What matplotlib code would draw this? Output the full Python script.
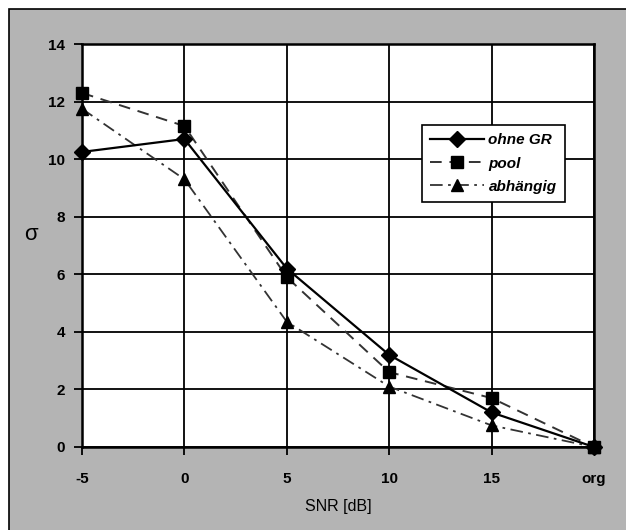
import numpy as np
import matplotlib
matplotlib.use("Agg")
import matplotlib.pyplot as plt
from matplotlib.patches import Rectangle

plt.rcParams['font.family'] = ['Liberation Sans', 'DejaVu Sans']

# data
snr_labels = ["-5", "0", "5", "10", "15", "org"]
ohne_gr = [10.25, 10.7, 6.2, 3.2, 1.2, 0.0]
pool = [12.3, 11.15, 5.9, 2.6, 1.7, 0.0]
abhaengig = [11.75, 9.3, 4.35, 2.1, 0.75, 0.0]
y_ticks = [0, 2, 4, 6, 8, 10, 12, 14]

x = np.arange(len(snr_labels))

fig = plt.figure(figsize=(6.26, 5.30), dpi=100, facecolor="white")

# grey panel with thin black border behind everything
fig.patches.append(Rectangle((9 / 626, -0.05), 1.0, 1 - 9 / 530 + 0.05,
                             transform=fig.transFigure, facecolor="#b4b4b4",
                             edgecolor="black", linewidth=1.2, zorder=-5))

ax = fig.add_axes([82 / 626, 1 - 447 / 530, (594 - 82) / 626, (447 - 44) / 530])
ax.set_zorder(2)
ax.set_facecolor("white")

ax.plot(x, ohne_gr, color="black", linestyle="-", linewidth=1.6,
        marker="D", markersize=8, label="ohne GR", zorder=4, clip_on=False)
ax.plot(x, pool, color="#333333", linestyle=(0, (6, 4)), linewidth=1.4,
        marker="s", markersize=9, markerfacecolor="black", markeredgecolor="black",
        label="pool", zorder=3, clip_on=False)
ax.plot(x, abhaengig, color="#333333", linestyle=(0, (7, 3, 1.5, 3)), linewidth=1.3,
        marker="^", markersize=9, markerfacecolor="black", markeredgecolor="black",
        label="abhängig", zorder=3, clip_on=False)

ax.set_xlim(0, 5)
ax.set_ylim(0, 14)
ax.set_xticks(x)
ax.set_xticklabels(snr_labels)
ax.set_yticks(y_ticks)
ax.grid(True, color="black", linewidth=1.3)
ax.set_axisbelow(True)

for s in ax.spines.values():
    s.set_linewidth(1.8)
    s.set_color("black")

ax.tick_params(axis="both", direction="out", length=6, width=1.3, color="black",
               labelsize=11, pad=12)
ax.tick_params(axis="y", pad=6)
for lab in ax.get_xticklabels() + ax.get_yticklabels():
    lab.set_fontweight("bold")

ax.set_xlabel("SNR [dB]", fontsize=11.5, labelpad=9)
ax.set_ylabel("σ", fontsize=16, rotation=0, labelpad=14)
ax.yaxis.set_label_coords(-0.1, 0.5)

leg = ax.legend(loc="upper left", bbox_to_anchor=((422 - 82) / 512, (447 - 125) / 403),
                borderaxespad=0,
                frameon=True, fancybox=False, edgecolor="black", framealpha=1,
                handlelength=3.5, handletextpad=0.3, borderpad=0.55, labelspacing=0.6,
                prop={"style": "italic", "weight": "bold", "size": 11})
leg.get_frame().set_linewidth(1.2)

fig.savefig("out.png", dpi=100)
